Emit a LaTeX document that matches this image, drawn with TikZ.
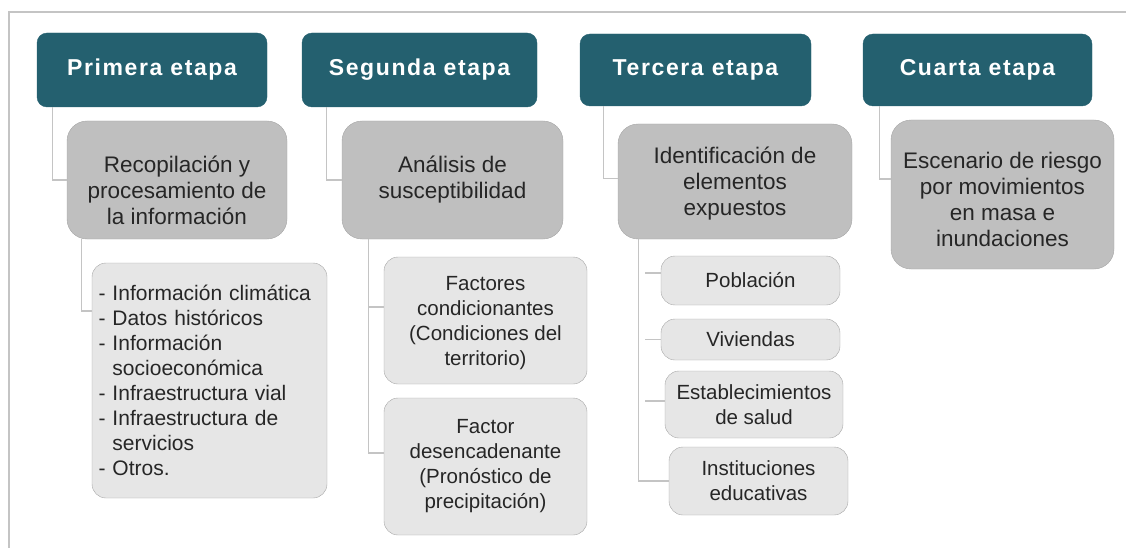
\documentclass[tikz,border=0pt]{standalone}
\usepackage{fontspec}
\setmainfont{Liberation Sans}
\usepackage{tikz}

\definecolor{petrol}{HTML}{24606F}
\definecolor{medgray}{HTML}{BFBFBF}
\definecolor{litegray}{HTML}{E6E6E6}
\definecolor{edgegray}{HTML}{A6A6A6}
\definecolor{linegray}{HTML}{C4C4C4}
\definecolor{txt}{HTML}{262626}

\begin{document}
\begin{tikzpicture}
  [x=1pt,y=-1pt,
   etapa/.style={rectangle,rounded corners=10pt,fill=petrol,draw=petrol,text=white,
     font=\fontsize{23}{26}\selectfont\bfseries\addfontfeatures{LetterSpace=7},inner sep=0pt},
   paso/.style={rectangle,rounded corners=20pt,fill=medgray,draw=edgegray,text=txt,
     align=center,font=\fontsize{22.5}{26}\selectfont,inner sep=0pt},
   detalle/.style={rectangle,rounded corners=14pt,fill=litegray,draw=edgegray,text=txt,
     align=center,font=\fontsize{20.5}{25}\selectfont,inner sep=0pt},
   link/.style={draw=linegray,line width=1.3pt}]
  \useasboundingbox (0,0) rectangle (1126,548);
  \draw[draw=linegray,line width=2.4pt] (9,548) -- (9,12) -- (1126,12);

  % etapas
  \node[etapa,minimum width=230pt,minimum height=74pt] (e1) at (152,70) {Primera etapa};
  \node[etapa,minimum width=235pt,minimum height=74pt] (e2) at (419.5,70) {Segunda etapa};
  \node[etapa,minimum width=231pt,minimum height=72pt] (e3) at (695.5,70) {Tercera etapa};
  \node[etapa,minimum width=229pt,minimum height=72pt] (e4) at (977.5,70) {Cuarta etapa};

  % pasos
  \node[paso,minimum width=220pt,minimum height=118pt] (p1) at (177,180)
    {\rule{0pt}{37pt}Recopilación y\\procesamiento de\\la información};
  \node[paso,minimum width=221pt,minimum height=118pt] (p2) at (452.5,180)
    {Análisis de\\susceptibilidad};
  \node[paso,minimum width=234pt,minimum height=115pt] (p3) at (735,181.5)
    {\rule{0pt}{21pt}Identificación de\\elementos\\expuestos};
  \node[paso,minimum width=223pt,minimum height=149pt] (p4) at (1002.5,194.5)
    {\rule{0pt}{27pt}Escenario de riesgo\\por movimientos\\en masa e\\inundaciones};

  % detalles
  \node[detalle,align=left,text width=222pt,minimum width=235pt,minimum height=235pt,
    font=\fontsize{21}{25}\selectfont] (l1) at (209.5,380.5)
    {- Información climática\\- Datos históricos\\- Información\\\phantom{- }socioeconómica\\- Infraestructura vial\\- Infraestructura de\\\phantom{- }servicios\\- Otros.};
  \node[detalle,minimum width=203pt,minimum height=127pt] (f1) at (485.5,320.5)
    {\rule{0pt}{20pt}Factores\\condicionantes\\(Condiciones del\\territorio)};
  \node[detalle,minimum width=203pt,minimum height=137pt] (f2) at (485.5,466.5)
    {Factor\\desencadenante\\(Pronóstico de\\precipitación)};
  \node[detalle,minimum width=179pt,minimum height=49pt] (s1) at (750.5,280.5) {Población};
  \node[detalle,minimum width=179pt,minimum height=41pt] (s2) at (750.5,339.5) {Viviendas};
  \node[detalle,minimum width=178pt,minimum height=67pt] (s3) at (754,404.5)
    {Establecimientos\\de salud};
  \node[detalle,minimum width=179pt,minimum height=68pt] (s4) at (758.5,481)
    {Instituciones\\educativas};

  % conectores
  \draw[link] ([xshift=16pt]e1.south west) |- (p1.west);
  \draw[link] ([xshift=25pt]e2.south west) |- (p2.west);
  \draw[link] ([xshift=24pt]e3.south west) |- ([yshift=3pt]p3.west);
  \draw[link] ([xshift=17pt]e4.south west) |- ([yshift=15.5pt]p4.west);

  \draw[link] ([xshift=15pt]p1.south west) |- ([yshift=69.5pt]l1.west);
  \draw[link] ([xshift=27pt]p2.south west) |- ([yshift=13.5pt]f1.west);
  \draw[link] ([xshift=27pt]p2.south west) |- ([yshift=13.5pt]f2.west);
  \draw[link] ([xshift=21pt]p3.south west) |- (s4.west);
  \draw[link] ([yshift=7.5pt]s1.west) -- ++(-16,0);
  \draw[link] (s2.west) -- ++(-16,0);
  \draw[link] ([yshift=3.5pt]s3.west) -- ++(-20,0);
\end{tikzpicture}
\end{document}
